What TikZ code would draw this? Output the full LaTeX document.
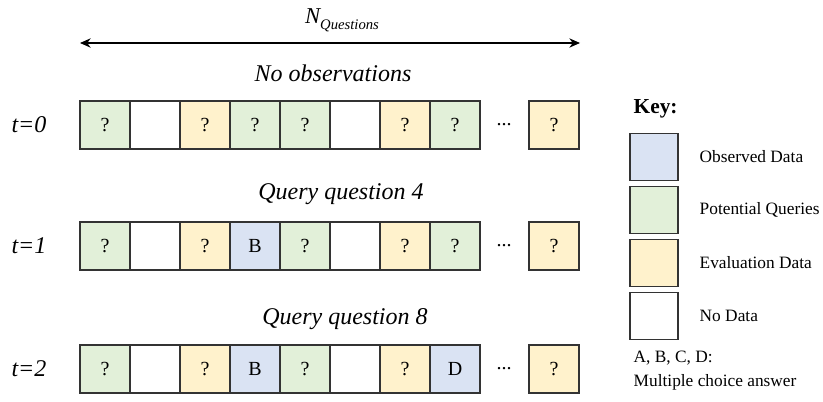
\documentclass[tikz,border=0pt]{standalone}
\usepackage{fontspec}
\setmainfont{Liberation Serif}
\usetikzlibrary{arrows.meta}

\definecolor{obsblue}{HTML}{DAE3F3}
\definecolor{qgreen}{HTML}{E2F0D9}
\definecolor{evalyellow}{HTML}{FFF2CC}

\tikzset{
	cell/.style={draw=black!80, line width=0.8pt, minimum width=37.5pt, minimum height=36pt, inner sep=0pt, font=\fontsize{15}{18}\selectfont},
	keybox/.style={draw=black!80, line width=0.8pt, minimum width=36pt, minimum height=35pt, inner sep=0pt},
	rowtitle/.style={font=\fontsize{18}{21}\selectfont\itshape},
	keytext/.style={anchor=west, font=\fontsize{13}{15}\selectfont}
}

\begin{document}
\begin{tikzpicture}[x=0.75pt, y=-0.75pt]
		\useasboundingbox (0,0) rectangle (823,402);

		% width arrow
		\coordinate (left) at (80,43);
		\coordinate (right) at (580,43);
		\draw[{Stealth[length=8pt,width=7pt]}-{Stealth[length=8pt,width=7pt]}, line width=0.9pt] (left) -- (right);
		\node[font=\fontsize{17}{20}\selectfont\itshape] (nq) at (342,20) {N\raisebox{-4.5pt}{\fontsize{11}{13}\selectfont Questions}};

		% row titles
		\node[rowtitle] (title0) at (333,73) {No observations};
		\node[rowtitle] (title1) at (341,194) {Query question 4};
		\node[rowtitle] (title2) at (345,319) {Query question 8};

		% time labels
		\foreach \t/\y in {0/125, 1/246, 2/369}
			\node[rowtitle] (time\t) at (29,\y) {t=\t};

		% rows of cells
		\foreach \c/\col/\txt in {1/qgreen/?, 2/white/, 3/evalyellow/?, 4/qgreen/?, 5/qgreen/?, 6/white/, 7/evalyellow/?, 8/qgreen/?}
			\node[cell, fill=\col] (rowa\c) at ({55+50*\c},125) {\txt};
		\foreach \c/\col/\txt in {1/qgreen/?, 2/white/, 3/evalyellow/?, 4/obsblue/B, 5/qgreen/?, 6/white/, 7/evalyellow/?, 8/qgreen/?}
			\node[cell, fill=\col] (rowb\c) at ({55+50*\c},246) {\txt};
		\foreach \c/\col/\txt in {1/qgreen/?, 2/white/, 3/evalyellow/?, 4/obsblue/B, 5/qgreen/?, 6/white/, 7/evalyellow/?, 8/obsblue/D}
			\node[cell, fill=\col] (rowc\c) at ({55+50*\c},369) {\txt};

		% last cells
		\foreach \r/\y in {a/125, b/246, c/369}{
			\node[font=\fontsize{15}{18}\selectfont] (dots\r) at (504,\y) {...};
			\node[cell, fill=evalyellow] (row\r last) at (554,\y) {?};
		}

		% key
		\node[anchor=west, font=\fontsize{16}{19}\selectfont\bfseries] (key) at (629,109) {Key:};
		\node[keybox, fill=obsblue] (keyobs) at (654,157) {};
		\node[keybox, fill=qgreen] (keyq) at (654,210) {};
		\node[keybox, fill=evalyellow] (keyeval) at (654,263) {};
		\node[keybox, fill=white] (keynone) at (654,316) {};
		\node[keytext] (tobs) at (695,157) {Observed Data};
		\node[keytext] (tq) at (695,210) {Potential Queries};
		\node[keytext] (teval) at (695,263) {Evaluation Data};
		\node[keytext] (tnone) at (695,316) {No Data};
		\node[keytext] (abcd) at (629,358) {A, B, C, D:};
		\node[keytext] (mca) at (629,382) {Multiple choice answer};
	\end{tikzpicture}
\end{document}
